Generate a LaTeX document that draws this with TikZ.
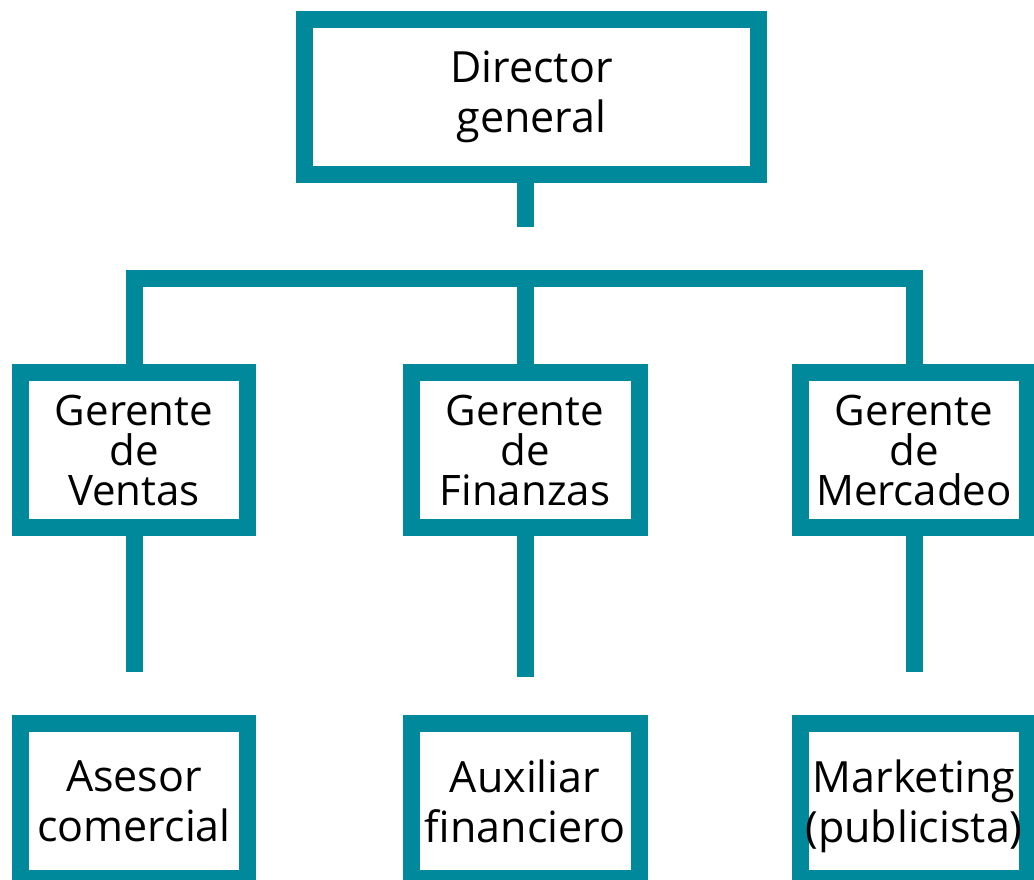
\documentclass[tikz,border=0pt]{standalone}
\usepackage{fontspec}
\setmainfont{Open Sans}
\usepackage{xcolor}
\definecolor{orgTeal}{HTML}{00899B}
\usepackage{tikz}
\usetikzlibrary{positioning,calc}
\tikzset{
    cargo/.style={
        draw=orgTeal,
        fill=white,
        rectangle,
        line width=17pt,
        align=center,
        inner sep=0pt,
        minimum width=227pt,
        minimum height=155pt,
        text=black,
        font=\fontsize{43pt}{50pt}\selectfont
    },
    gerente/.style={
        cargo,
        font=\fontsize{42pt}{40pt}\selectfont
    },
    personal/.style={
        cargo,
        text depth=0pt
    },
    linea/.style={
        draw=orgTeal,
        line width=17pt,
        line join=miter
    }
}

\begin{document}
\begin{tikzpicture}[x=1pt,y=-1pt]
    \useasboundingbox (0,0) rectangle (1034,879);
    \clip (0,0) rectangle (1034,879);

    % Top level
    \node[cargo, minimum width=454pt] (director) at (531.5,97) {Director\\general};

    % Managers
    \node[gerente] (ventas) at (134,450) {Gerente\\de\\Ventas};
    \node[gerente, minimum width=228pt] (finanzas) at (525,450) {Gerente\\de\\Finanzas};
    \node[gerente] (mercadeo) at (914,450) {Gerente\\de\\Mercadeo};

    % Staff
    \node[personal] (asesor) at (134,801) {Asesor\\comercial};
    \node[personal, minimum width=228pt] (auxiliar) at (525,801) {Auxiliar\\financiero};
    \node[personal] (marketing) at (914,801) {Marketing\\(publicista)};

    % Connectors
    \coordinate (barra) at (525,278.5);
    \draw[linea] (director.south -| finanzas.north) -- ++(0,44);
    \draw[linea] (ventas.north) |- (barra) -| (mercadeo.north);
    \draw[linea] (barra) -- (finanzas.north);
    \draw[linea] (ventas.south) -- ++(0,136);
    \draw[linea] (finanzas.south) -- ++(0,141);
    \draw[linea] (mercadeo.south) -- ++(0,136);
\end{tikzpicture}
\end{document}
